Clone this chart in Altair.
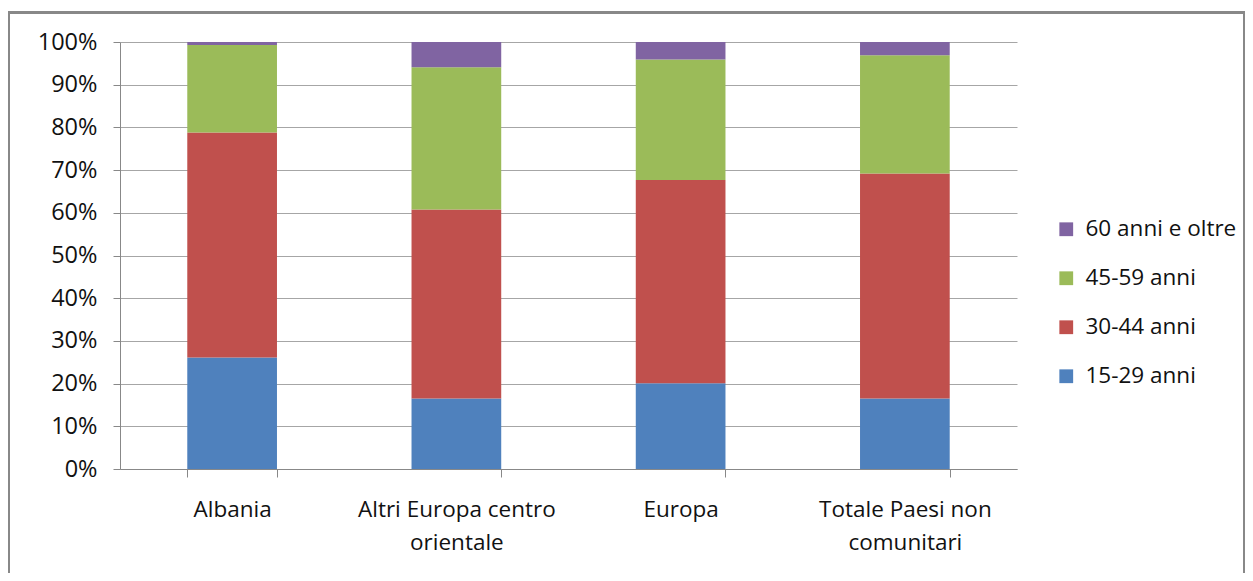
import altair as alt
import pandas as pd

categories = ["Albania", "Altri Europa centro orientale", "Europa", "Totale Paesi non comunitari"]
series = ["15-29 anni", "30-44 anni", "45-59 anni", "60 anni e oltre"]
v_15_29 = [0.261, 0.165, 0.201, 0.165]
v_30_44 = [0.527, 0.443, 0.476, 0.527]
v_45_59 = [0.205, 0.333, 0.282, 0.277]
v_60 = [0.007, 0.059, 0.041, 0.031]
colors = ["#4F81BD", "#C0504D", "#9BBB59", "#8064A2"]

rows = []
for si, (s, vals) in enumerate(zip(series, [v_15_29, v_30_44, v_45_59, v_60])):
    for c, v in zip(categories, vals):
        rows.append({"cat": c, "serie": s, "val": v, "ord": si})
df = pd.DataFrame(rows)

FONT = "Open Sans"

bars = alt.Chart(df).mark_bar(stroke=None).encode(
    x=alt.X("cat:N", sort=categories, title=None,
            scale=alt.Scale(paddingInner=0.6, paddingOuter=0.3),
            axis=alt.Axis(labelAngle=0, tickBand="extent", tickSize=8, tickColor="#888888",
                          domainColor="#888888", labelFont=FONT, labelFontSize=22.5,
                          labelColor="#111111", labelPadding=21, labelLineHeight=33,
                          labelLimit=400,
                          labelExpr="split(replace(replace(datum.label, 'centro ', 'centro|'), 'non ', 'non|'), '|')")),
    y=alt.Y("val:Q", stack="zero", title=None,
            scale=alt.Scale(domain=[0, 1], nice=False),
            axis=alt.Axis(format=".0%", values=[i / 10 for i in range(11)], tickSize=7,
                          tickColor="#888888", domainColor="#888888", gridColor="#a6a6a6",
                          labelFont=FONT, labelFontSize=23.5, labelColor="#111111", labelPadding=16)),
    color=alt.Color("serie:N",
                    scale=alt.Scale(domain=list(reversed(series)), range=list(reversed(colors))),
                    legend=alt.Legend(title=None, orient="none", legendX=935, legendY=176,
                                      symbolType="square", symbolSize=190, symbolStrokeWidth=0,
                                      labelFont=FONT, labelFontSize=22.5, labelColor="#111111",
                                      labelLimit=400, rowPadding=26, labelOffset=8)),
    order=alt.Order("ord:Q", sort="ascending"),
)

border = alt.Chart(df).mark_rect(fill=None, stroke="#888888", strokeWidth=1.5).encode(
    x=alt.value(-111.5), x2=alt.value(1124.5), y=alt.value(-29.5), y2=alt.value(640)
)

chart = alt.layer(border, bars).properties(
    width=897, height=427,
    padding={"left": 112, "top": 34, "right": 228, "bottom": 104},
    autosize=alt.AutoSizeParams(type="none"),
).configure_view(stroke=None).configure_axis(grid=True).configure_axisX(grid=False)

chart.save("out.html", embed_options={"renderer": "svg", "actions": False})
